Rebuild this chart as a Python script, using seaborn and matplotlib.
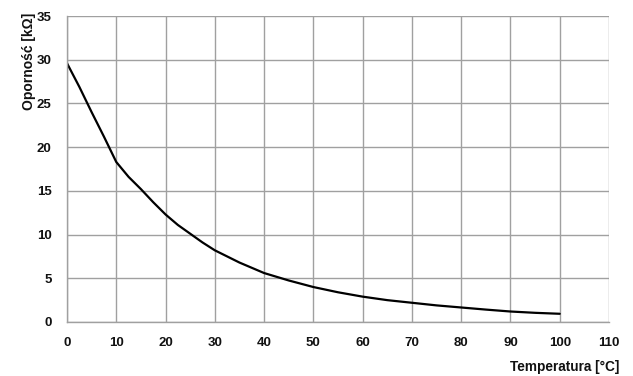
import matplotlib
matplotlib.use("Agg")
import matplotlib.pyplot as plt
import seaborn as sns
import pandas as pd

temperature = [0, 2.5, 5, 7.5, 10, 12.5, 15, 17.5, 20, 22.5, 25, 27.5, 30, 32.5, 35, 37.5,
               40, 45, 50, 55, 60, 65, 70, 75, 80, 85, 90, 95, 100]
resistance = [29.6, 26.9, 24.0, 21.2, 18.3, 16.6, 15.2, 13.7, 12.3, 11.1, 10.1, 9.1, 8.2,
              7.5, 6.8, 6.2, 5.6, 4.75, 4.0, 3.4, 2.9, 2.5, 2.2, 1.9, 1.66, 1.42, 1.2,
              1.05, 0.94]
x_ticks = [0, 10, 20, 30, 40, 50, 60, 70, 80, 90, 100, 110]
y_ticks = [0, 5, 10, 15, 20, 25, 30, 35]

sns.set_theme(style="white")
plt.rcParams['font.family'] = ['Liberation Sans', 'DejaVu Sans']

df = pd.DataFrame({"T": temperature, "R": resistance})

fig = plt.figure(figsize=(6.33, 3.76), dpi=100)
ax = fig.add_axes([67/633, 1 - 322/376, 542/633, 306/376])

grid_c = "#a0a0a0"
sns.lineplot(data=df, x="T", y="R", ax=ax, color="black", linewidth=1.6)

ax.set_xlim(0, 110)
ax.set_ylim(0, 35)
ax.set_xticks(x_ticks)
ax.set_yticks(y_ticks)
ax.grid(True, color=grid_c, linewidth=1.0)
ax.set_axisbelow(True)
for s in ["top", "right"]:
    ax.spines[s].set_visible(False)
for s in ["left", "bottom"]:
    ax.spines[s].set_color(grid_c)
    ax.spines[s].set_linewidth(1.0)

ax.tick_params(axis="both", which="major", length=3.5, width=1.0, color=grid_c,
               pad=7.5, labelsize=9.5, labelcolor="#111111")
for lbl in ax.get_xticklabels() + ax.get_yticklabels():
    lbl.set_fontweight("bold")

ax.set_xlabel("Temperatura [°C]", fontsize=9.8, fontweight="bold", color="#111111", ha="right")
ax.xaxis.set_label_coords(1.02, -0.125)
ax.set_ylabel("Oporność [kΩ]", fontsize=10, fontweight="bold", color="#111111")
ax.yaxis.set_label_coords(-0.058, 0.853)

fig.savefig("out.png", dpi=100, facecolor="white")
